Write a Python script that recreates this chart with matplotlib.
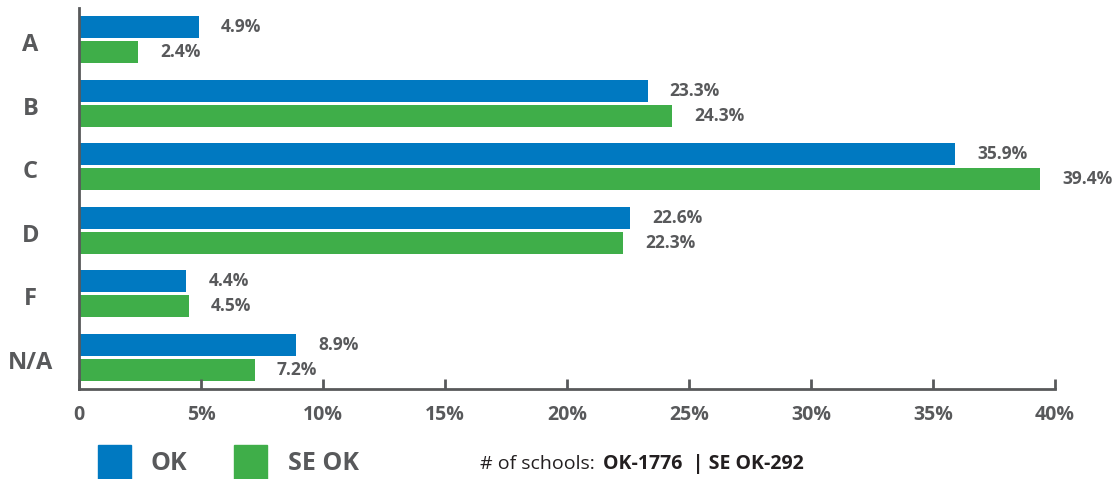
import matplotlib.pyplot as plt
from matplotlib.patches import Rectangle

# data
grades = ['A', 'B', 'C', 'D', 'F', 'N/A']
ok = [4.9, 23.3, 35.9, 22.6, 4.4, 8.9]
se_ok = [2.4, 24.3, 39.4, 22.3, 4.5, 7.2]
xticks = [0, 5, 10, 15, 20, 25, 30, 35, 40]
xtick_labels = ['0', '5%', '10%', '15%', '20%', '25%', '30%', '35%', '40%']

blue = '#0079c1'
green = '#3fae49'
gray = '#58595b'
dark = '#231f20'

plt.rcParams['font.family'] = ['Open Sans', 'DejaVu Sans']

fig = plt.figure(figsize=(11.14, 4.79), dpi=100)
ax = fig.add_axes([79 / 1114, 90 / 479, 976 / 1114, 381 / 479])

h = 0.347
ypos = list(range(len(grades)))
ax.barh([y - 0.195 for y in ypos], ok, height=h, color=blue)
ax.barh([y + 0.195 for y in ypos], se_ok, height=h, color=green)

# value labels
for y, v in zip(ypos, ok):
    ax.annotate(f'{v}%', (v, y - 0.195), xytext=(16, 0), textcoords='offset points',
                ha='left', va='center', fontsize=12.5, fontweight='bold', color=gray)
for y, v in zip(ypos, se_ok):
    ax.annotate(f'{v}%', (v, y + 0.195), xytext=(16, 0), textcoords='offset points',
                ha='left', va='center', fontsize=12.5, fontweight='bold', color=gray)

ax.set_xlim(0, 40)
ax.set_ylim(5.5, -0.5)
ax.set_xticks(xticks)
ax.set_xticklabels(xtick_labels, fontsize=14, fontweight='bold', color=gray)
ax.set_yticks([y + 0.04 for y in ypos])
ax.set_yticklabels(grades, fontsize=17, fontweight='bold', color=gray)
ax.tick_params(axis='x', direction='in', length=7, width=2, color=gray, pad=11.5)
ax.tick_params(axis='y', length=0, pad=35)
for lab in ax.get_yticklabels():
    lab.set_horizontalalignment('center')

for s in ['top', 'right']:
    ax.spines[s].set_visible(False)
for s in ['left', 'bottom']:
    ax.spines[s].set_color(gray)
    ax.spines[s].set_linewidth(2)

# legend
W, H = 1114, 479
fig.patches.append(Rectangle((98 / W, 0), 33 / W, 34 / H, transform=fig.transFigure,
                             color=blue, figure=fig))
fig.text(151 / W, 15 / H, 'OK', fontsize=18, fontweight='bold', color=gray, va='center')
fig.patches.append(Rectangle((234 / W, 0), 33 / W, 34 / H, transform=fig.transFigure,
                             color=green, figure=fig))
fig.text(288 / W, 15 / H, 'SE OK', fontsize=18, fontweight='bold', color=gray, va='center')
fig.text(480 / W, 15 / H, '# of schools:', fontsize=14, color=dark, va='center')
fig.text(603 / W, 15 / H, 'OK-1776  | SE OK-292', fontsize=14, fontweight='bold',
         color=dark, va='center')

fig.savefig('out.png', dpi=100)
